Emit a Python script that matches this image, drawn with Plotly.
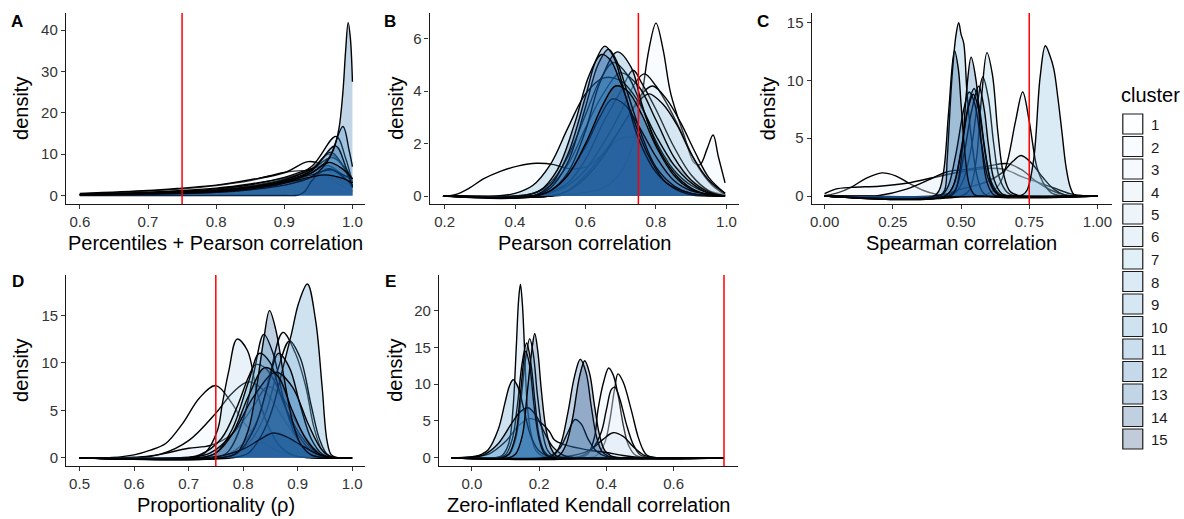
import plotly.graph_objects as go

# ---------------- data ----------------
THRESHOLD = 0.75
CLUSTERS = list(range(1, 16))

PANEL_LETTERS = ["A", "B", "C", "D", "E"]
X_TITLES = ["Percentiles + Pearson correlation", "Pearson correlation",
            "Spearman correlation", "Proportionality (ρ)",
            "Zero-inflated Kendall correlation"]

A_xticks = [0.6, 0.7, 0.8, 0.9, 1.0]
A_xtext = ["0.6", "0.7", "0.8", "0.9", "1.0"]
A_yticks = [0, 10, 20, 30, 40]
B_xticks = [0.2, 0.4, 0.6, 0.8, 1.0]
B_xtext = ["0.2", "0.4", "0.6", "0.8", "1.0"]
B_yticks = [0, 2, 4, 6]
C_xticks = [0.0, 0.25, 0.5, 0.75, 1.0]
C_xtext = ["0.00", "0.25", "0.50", "0.75", "1.00"]
C_yticks = [0, 5, 10, 15]
D_xticks = [0.5, 0.6, 0.7, 0.8, 0.9, 1.0]
D_xtext = ["0.5", "0.6", "0.7", "0.8", "0.9", "1.0"]
D_yticks = [0, 5, 10, 15]
E_xticks = [0.0, 0.2, 0.4, 0.6]
E_xtext = ["0.0", "0.2", "0.4", "0.6"]
E_yticks = [0, 5, 10, 15, 20]

# density curves, one list of (x, density) key points per cluster 1..15
A_pts = [
    [(0.6, 0.4), (0.65, 0.7), (0.7, 1.1), (0.75, 1.6), (0.8, 2.4), (0.85, 3.6), (0.9, 5.6), (0.93, 6.0), (0.96, 5.0), (0.98, 2.8), (1.0, 1.0)],
    [(0.6, 0.5), (0.7, 1.2), (0.75, 1.8), (0.8, 2.5), (0.85, 3.8), (0.9, 5.5), (0.935, 8.2), (0.955, 7.5), (0.975, 4.5), (1.0, 2.0)],
    [(0.6, 0.3), (0.7, 0.8), (0.8, 1.8), (0.85, 2.8), (0.9, 4.2), (0.93, 5.5), (0.96, 6.5), (0.98, 5.0), (1.0, 2.5)],
    [(0.6, 0.2), (0.7, 0.6), (0.8, 1.4), (0.85, 2.3), (0.9, 4.0), (0.94, 6.5), (0.965, 10.0), (0.98, 8.5), (1.0, 3.0)],
    [(0.6, 0.2), (0.7, 0.5), (0.8, 1.2), (0.85, 2.0), (0.9, 3.6), (0.94, 7.0), (0.976, 14.3), (0.99, 9.0), (1.0, 3.0)],
    [(0.6, 0.3), (0.7, 0.7), (0.8, 1.6), (0.85, 2.6), (0.9, 4.4), (0.94, 6.5), (0.965, 7.2), (0.985, 5.0), (1.0, 2.0)],
    [(0.6, 0.2), (0.7, 0.5), (0.8, 1.2), (0.85, 2.1), (0.9, 3.8), (0.94, 6.3), (0.97, 9.2), (0.99, 6.5), (1.0, 4.0)],
    [(0.6, 0.2), (0.7, 0.5), (0.8, 1.1), (0.85, 2.0), (0.9, 3.5), (0.94, 6.0), (0.968, 10.5), (0.985, 7.5), (1.0, 2.0)],
    [(0.6, 0.15), (0.7, 0.4), (0.8, 1.0), (0.85, 1.8), (0.9, 3.2), (0.94, 5.5), (0.965, 9.0), (0.986, 16.7), (0.995, 11.0), (1.0, 7.0)],
    [(0.6, 0.0), (0.9, 0.0), (0.92, 0.1), (0.93, 1.0), (0.94, 3.5), (0.95, 5.2), (0.965, 6.5), (0.98, 5.5), (1.0, 4.0)],
    [(0.6, 0.2), (0.7, 0.5), (0.8, 1.2), (0.85, 2.0), (0.9, 3.4), (0.94, 5.0), (0.97, 6.2), (0.99, 4.0), (1.0, 2.5)],
    [(0.6, 0.1), (0.7, 0.3), (0.8, 0.8), (0.85, 1.5), (0.9, 3.0), (0.94, 6.0), (0.975, 12.0), (0.99, 7.0), (1.0, 2.0)],
    [(0.6, 0.2), (0.7, 0.4), (0.8, 0.8), (0.85, 1.4), (0.9, 2.5), (0.94, 4.5), (0.96, 7.5), (0.972, 11.0), (0.98, 16.0), (0.986, 25.0), (0.99, 35.0), (0.9937, 41.8), (0.997, 38.0), (1.0, 27.5)],
    [(0.6, 0.2), (0.7, 0.5), (0.8, 1.1), (0.85, 1.9), (0.9, 3.3), (0.94, 5.5), (0.965, 8.0), (0.985, 6.5), (1.0, 4.0)],
    [(0.6, 0.15), (0.7, 0.4), (0.8, 0.9), (0.85, 1.6), (0.9, 3.0), (0.94, 4.5), (0.96, 5.0), (0.985, 4.2), (1.0, 3.0)],
]

B_pts = [
    [(0.1955, 0), (0.23, 0.05), (0.27, 0.3), (0.31, 0.65), (0.36, 0.95), (0.41, 1.15), (0.46, 1.25), (0.51, 1.2), (0.55, 1.05), (0.6, 1.1), (0.65, 1.6), (0.7, 2.2), (0.75, 2.2), (0.8, 1.8), (0.85, 1.2), (0.9, 0.6), (0.95, 0.2), (0.996, 0.05)],
    [(0.1955, 0), (0.5, 0), (0.55, 0.05), (0.6, 0.15), (0.65, 0.3), (0.7, 0.9), (0.74, 2.2), (0.76, 3.8), (0.78, 5.6), (0.8, 6.6), (0.82, 5.6), (0.842, 3.9), (0.88, 2.3), (0.908, 1.27), (0.925, 1.2), (0.945, 1.8), (0.962, 2.33), (0.977, 1.5), (0.996, 0.5)],
    [(0.1955, 0), (0.45, 0), (0.5, 0.1), (0.55, 0.4), (0.6, 1.0), (0.65, 2.0), (0.7, 3.2), (0.74, 4.3), (0.767, 4.66), (0.8, 4.2), (0.84, 3.3), (0.88, 2.2), (0.92, 1.1), (0.96, 0.4), (0.996, 0.05)],
    [(0.1955, 0), (0.5, 0), (0.55, 0.2), (0.6, 0.8), (0.66, 1.8), (0.72, 3.0), (0.76, 3.9), (0.79, 4.2), (0.83, 3.7), (0.87, 2.8), (0.91, 1.7), (0.95, 0.7), (0.996, 0.1)],
    [(0.1955, 0), (0.45, 0), (0.5, 0.15), (0.55, 0.5), (0.6, 1.4), (0.65, 2.8), (0.7, 4.0), (0.735, 4.8), (0.76, 4.3), (0.8, 3.3), (0.85, 1.9), (0.9, 0.8), (0.95, 0.2), (0.996, 0)],
    [(0.1955, 0), (0.5, 0), (0.55, 0.2), (0.6, 0.7), (0.65, 1.5), (0.7, 2.6), (0.75, 3.6), (0.78, 3.9), (0.82, 3.5), (0.86, 2.7), (0.9, 1.6), (0.95, 0.6), (0.996, 0.1)],
    [(0.1955, 0), (0.4, 0), (0.45, 0.1), (0.5, 0.4), (0.55, 1.2), (0.6, 2.6), (0.65, 3.9), (0.7, 4.7), (0.75, 4.2), (0.8, 2.9), (0.85, 1.5), (0.9, 0.6), (0.95, 0.15), (0.996, 0)],
    [(0.1955, 0), (0.4, 0), (0.45, 0.1), (0.5, 0.5), (0.55, 1.5), (0.6, 3.1), (0.64, 4.4), (0.68, 5.1), (0.72, 4.6), (0.76, 3.4), (0.8, 2.1), (0.85, 1.0), (0.9, 0.4), (0.95, 0.1), (0.996, 0)],
    [(0.1955, 0), (0.35, 0), (0.4, 0.1), (0.45, 0.4), (0.5, 1.2), (0.55, 2.6), (0.6, 3.9), (0.65, 4.5), (0.7, 4.4), (0.75, 3.6), (0.8, 2.3), (0.85, 1.2), (0.9, 0.5), (0.95, 0.1), (0.996, 0)],
    [(0.1955, 0), (0.45, 0), (0.5, 0.2), (0.55, 0.9), (0.6, 2.5), (0.64, 4.3), (0.69, 5.5), (0.73, 4.9), (0.76, 3.5), (0.8, 2.0), (0.85, 0.9), (0.9, 0.3), (0.95, 0.05), (0.996, 0)],
    [(0.1955, 0), (0.45, 0), (0.5, 0.2), (0.55, 0.8), (0.6, 1.9), (0.64, 3.0), (0.675, 3.7), (0.71, 3.5), (0.75, 2.7), (0.8, 1.5), (0.85, 0.6), (0.9, 0.2), (0.996, 0)],
    [(0.1955, 0), (0.45, 0), (0.5, 0.3), (0.55, 1.3), (0.6, 3.4), (0.635, 5.0), (0.665, 5.6), (0.69, 5.1), (0.72, 3.9), (0.76, 2.3), (0.8, 1.1), (0.85, 0.4), (0.9, 0.1), (0.996, 0)],
    [(0.1955, 0), (0.45, 0), (0.5, 0.4), (0.55, 1.6), (0.6, 3.8), (0.63, 5.2), (0.655, 5.72), (0.68, 5.3), (0.71, 4.0), (0.75, 2.2), (0.8, 0.9), (0.85, 0.3), (0.9, 0.05), (0.996, 0)],
    [(0.1955, 0), (0.42, 0), (0.47, 0.2), (0.52, 1.0), (0.57, 2.8), (0.61, 4.6), (0.645, 5.4), (0.67, 5.2), (0.7, 4.3), (0.74, 2.8), (0.78, 1.5), (0.83, 0.5), (0.9, 0.1), (0.996, 0)],
    [(0.1955, 0), (0.45, 0), (0.5, 0.2), (0.55, 0.8), (0.6, 2.0), (0.65, 3.5), (0.685, 4.2), (0.72, 4.0), (0.76, 3.1), (0.8, 1.9), (0.85, 0.8), (0.9, 0.25), (0.95, 0.05), (0.996, 0)],
]

C_pts = [
    [(0.0, 0.05), (0.05, 0.3), (0.1, 0.8), (0.15, 1.5), (0.21, 2.0), (0.26, 1.75), (0.31, 1.1), (0.36, 0.5), (0.41, 0.15), (0.46, 0.02), (0.55, 0), (1.0, 0)],
    [(0.0, 0.2), (0.04, 0.6), (0.1, 0.75), (0.2, 0.85), (0.3, 1.1), (0.4, 1.6), (0.5, 2.1), (0.6, 2.4), (0.66, 2.3), (0.72, 1.7), (0.78, 1.2), (0.84, 0.7), (0.9, 0.2), (0.95, 0.02), (1.0, 0)],
    [(0.0, 0), (0.15, 0), (0.2, 0.05), (0.3, 0.6), (0.4, 1.6), (0.45, 2.1), (0.52, 2.3), (0.6, 2.6), (0.67, 2.8), (0.72, 2.3), (0.78, 1.2), (0.83, 0.5), (0.88, 0.1), (0.93, 0), (1.0, 0)],
    [(0.0, 0), (0.55, 0), (0.6, 0.2), (0.64, 1.0), (0.67, 3.0), (0.7, 6.5), (0.726, 9.0), (0.749, 6.6), (0.778, 2.5), (0.8, 1.2), (0.83, 0.3), (0.87, 0.02), (1.0, 0)],
    [(0.0, 0), (0.4, 0), (0.45, 0.2), (0.5, 0.6), (0.55, 0.9), (0.6, 1.3), (0.65, 2.0), (0.69, 3.0), (0.72, 3.5), (0.76, 2.8), (0.8, 1.6), (0.84, 0.6), (0.88, 0.1), (1.0, 0)],
    [(0.0, 0), (0.45, 0), (0.48, 0.3), (0.51, 1.5), (0.54, 4.5), (0.56, 8.0), (0.58, 10.3), (0.6, 8.5), (0.62, 4.5), (0.64, 1.6), (0.67, 0.3), (0.7, 0), (1.0, 0)],
    [(0.0, 0), (0.5, 0), (0.53, 0.5), (0.555, 3.0), (0.575, 8.5), (0.595, 12.4), (0.615, 10.5), (0.635, 5.5), (0.655, 2.0), (0.68, 0.4), (0.72, 0), (1.0, 0)],
    [(0.0, 0), (0.7, 0), (0.725, 0.1), (0.742, 0.5), (0.766, 3.1), (0.79, 10.3), (0.809, 13.0), (0.825, 12.2), (0.84, 11.0), (0.855, 8.5), (0.87, 5.5), (0.885, 2.5), (0.9, 0.8), (0.915, 0.1), (0.94, 0), (1.0, 0)],
    [(0.0, 0), (0.42, 0), (0.44, 0.5), (0.449, 3.1), (0.467, 10.3), (0.482, 14.0), (0.4915, 15.0), (0.5, 14.0), (0.51, 13.2), (0.522, 8.9), (0.54, 4.6), (0.559, 1.7), (0.58, 0.3), (0.6, 0), (1.0, 0)],
    [(0.0, 0), (0.44, 0), (0.47, 0.8), (0.5, 4.0), (0.53, 8.2), (0.548, 9.3), (0.565, 8.0), (0.585, 4.5), (0.61, 1.3), (0.64, 0.2), (0.68, 0), (1.0, 0)],
    [(0.0, 0), (0.45, 0), (0.48, 0.6), (0.51, 3.5), (0.54, 7.5), (0.565, 9.5), (0.585, 7.5), (0.6, 4.5), (0.62, 1.5), (0.65, 0.2), (0.7, 0), (1.0, 0)],
    [(0.0, 0), (0.42, 0), (0.45, 0.7), (0.48, 3.5), (0.51, 7.5), (0.53, 9.0), (0.55, 8.0), (0.575, 4.5), (0.6, 1.5), (0.63, 0.2), (0.67, 0), (1.0, 0)],
    [(0.0, 0), (0.46, 0), (0.48, 0.5), (0.5, 3.0), (0.52, 9.0), (0.537, 12.0), (0.555, 10.0), (0.575, 4.5), (0.595, 1.2), (0.62, 0.1), (0.65, 0), (1.0, 0)],
    [(0.0, 0), (0.4, 0), (0.42, 0.5), (0.437, 2.25), (0.455, 7.4), (0.476, 12.6), (0.49, 11.0), (0.5, 8.0), (0.515, 3.5), (0.53, 1.0), (0.55, 0.1), (0.58, 0), (1.0, 0)],
    [(0.0, 0), (0.44, 0), (0.47, 0.8), (0.5, 3.8), (0.525, 7.5), (0.545, 8.8), (0.565, 7.5), (0.59, 3.5), (0.615, 0.8), (0.64, 0.1), (0.68, 0), (1.0, 0)],
]

D_pts = [
    [(0.5, 0), (0.56, 0.02), (0.6, 0.3), (0.63, 0.8), (0.658, 1.5), (0.689, 3.6), (0.72, 6.3), (0.75, 7.6), (0.78, 5.7), (0.8, 3.8), (0.83, 1.9), (0.86, 0.8), (0.9, 0.15), (0.94, 0), (1.0, 0)],
    [(0.5, 0), (0.6, 0.05), (0.65, 0.4), (0.7, 1.8), (0.75, 4.7), (0.78, 6.8), (0.81, 8.0), (0.84, 7.0), (0.87, 4.5), (0.9, 2.0), (0.93, 0.5), (0.96, 0.05), (1.0, 0)],
    [(0.5, 0), (0.62, 0.05), (0.66, 0.5), (0.7, 1.0), (0.74, 1.3), (0.78, 2.5), (0.82, 5.5), (0.845, 7.5), (0.87, 6.5), (0.9, 3.5), (0.93, 1.0), (0.96, 0.1), (1.0, 0)],
    [(0.5, 0), (0.74, 0), (0.77, 0.3), (0.8, 1.5), (0.83, 4.5), (0.85, 9.0), (0.873, 13.2), (0.896, 11.0), (0.915, 7.5), (0.93, 3.2), (0.945, 0.8), (0.96, 0.05), (1.0, 0)],
    [(0.5, 0), (0.75, 0), (0.78, 0.3), (0.81, 1.5), (0.84, 4.5), (0.865, 9.5), (0.885, 12.3), (0.905, 10.5), (0.925, 5.5), (0.94, 2.0), (0.955, 0.3), (0.97, 0), (1.0, 0)],
    [(0.5, 0), (0.7, 0), (0.73, 0.5), (0.753, 2.9), (0.762, 5.7), (0.774, 9.2), (0.789, 12.5), (0.808, 11.3), (0.825, 7.0), (0.845, 3.5), (0.865, 1.4), (0.89, 0.3), (0.92, 0), (1.0, 0)],
    [(0.5, 0), (0.68, 0), (0.72, 0.3), (0.76, 2.0), (0.79, 5.5), (0.81, 8.5), (0.823, 9.8), (0.84, 9.5), (0.86, 7.8), (0.88, 5.0), (0.91, 2.0), (0.935, 0.5), (0.96, 0.05), (1.0, 0)],
    [(0.5, 0), (0.74, 0), (0.77, 0.5), (0.8, 4.0), (0.82, 9.0), (0.838, 13.0), (0.855, 11.0), (0.875, 6.0), (0.895, 2.5), (0.92, 0.5), (0.95, 0), (1.0, 0)],
    [(0.5, 0), (0.72, 0), (0.75, 0.5), (0.78, 3.0), (0.81, 8.0), (0.83, 11.0), (0.85, 10.0), (0.87, 6.5), (0.9, 2.5), (0.93, 0.5), (0.96, 0), (1.0, 0)],
    [(0.5, 0), (0.78, 0), (0.81, 0.5), (0.835, 2.5), (0.853, 5.0), (0.872, 9.2), (0.889, 13.1), (0.902, 16.3), (0.918, 18.3), (0.933, 14.5), (0.945, 7.5), (0.954, 1.8), (0.962, 0.3), (0.975, 0), (1.0, 0)],
    [(0.5, 0), (0.76, 0), (0.79, 0.5), (0.82, 3.0), (0.845, 7.5), (0.865, 11.0), (0.885, 9.5), (0.905, 5.5), (0.925, 2.0), (0.945, 0.4), (0.965, 0), (1.0, 0)],
    [(0.5, 0), (0.7, 0), (0.74, 0.5), (0.78, 2.5), (0.82, 6.5), (0.86, 9.0), (0.89, 7.5), (0.92, 3.5), (0.945, 0.8), (0.965, 0.05), (1.0, 0)],
    [(0.5, 0), (0.72, 0), (0.76, 0.2), (0.8, 0.9), (0.83, 1.9), (0.855, 2.6), (0.88, 2.2), (0.91, 1.2), (0.94, 0.3), (0.97, 0), (1.0, 0)],
    [(0.5, 0), (0.76, 0), (0.79, 0.6), (0.81, 3.0), (0.825, 7.5), (0.838, 12.5), (0.8485, 15.5), (0.86, 13.5), (0.875, 8.5), (0.89, 4.0), (0.905, 1.5), (0.925, 0.3), (0.95, 0), (1.0, 0)],
    [(0.5, 0), (0.72, 0), (0.75, 0.5), (0.78, 2.5), (0.81, 6.5), (0.84, 9.5), (0.865, 8.5), (0.89, 5.0), (0.915, 2.0), (0.94, 0.4), (0.96, 0), (1.0, 0)],
]

E_pts = [
    [(-0.06, 0), (0.35, 0), (0.37, 0.3), (0.395, 2.0), (0.41, 5.0), (0.425, 9.5), (0.4345, 11.4), (0.45, 10.3), (0.474, 6.5), (0.494, 2.9), (0.51, 1.0), (0.52, 0.37), (0.54, 0.05), (0.57, 0), (0.75, 0)],
    [(-0.06, 0), (0.32, 0), (0.345, 0.5), (0.365, 2.86), (0.375, 6.5), (0.393, 10.5), (0.407, 12.2), (0.42, 11.3), (0.435, 8.5), (0.45, 4.5), (0.465, 1.8), (0.485, 0.4), (0.51, 0), (0.75, 0)],
    [(-0.06, 0), (0.3, 0), (0.33, 0.3), (0.36, 1.3), (0.385, 3.5), (0.4, 6.5), (0.415, 9.3), (0.425, 9.6), (0.44, 8.0), (0.46, 4.5), (0.48, 1.8), (0.5, 0.4), (0.53, 0), (0.75, 0)],
    [(-0.06, 0), (0.25, 0), (0.3, 0.3), (0.35, 1.0), (0.39, 2.5), (0.42, 3.4), (0.45, 2.9), (0.48, 1.5), (0.51, 0.4), (0.55, 0), (0.75, 0)],
    [(-0.06, 0), (0.0, 0.1), (0.05, 0.5), (0.1, 2.2), (0.14, 4.4), (0.17, 5.3), (0.2, 4.9), (0.23, 3.6), (0.246, 2.4), (0.28, 1.7), (0.345, 1.05), (0.4, 0.7), (0.45, 0.3), (0.5, 0.05), (0.55, 0), (0.75, 0)],
    [(-0.06, 0), (0.07, 0), (0.09, 0.3), (0.11, 2.0), (0.122, 6.5), (0.132, 15.0), (0.139, 21.5), (0.1444, 23.6), (0.15, 21.0), (0.155, 16.5), (0.159, 11.9), (0.165, 7.0), (0.175, 3.5), (0.19, 1.0), (0.21, 0.2), (0.24, 0), (0.75, 0)],
    [(-0.06, 0), (0.2, 0), (0.23, 0.2), (0.26, 1.2), (0.285, 3.4), (0.307, 5.2), (0.325, 4.6), (0.345, 2.6), (0.37, 0.9), (0.4, 0.15), (0.43, 0), (0.75, 0)],
    [(-0.06, 0), (0.09, 0), (0.11, 0.4), (0.13, 2.5), (0.145, 7.5), (0.16, 13.5), (0.172, 16.2), (0.183, 14.0), (0.195, 8.5), (0.21, 3.5), (0.225, 1.0), (0.245, 0.1), (0.27, 0), (0.75, 0)],
    [(-0.06, 0), (0.08, 0), (0.1, 0.4), (0.12, 2.5), (0.135, 7.0), (0.15, 13.0), (0.163, 15.6), (0.175, 13.0), (0.188, 7.5), (0.2, 3.0), (0.215, 0.9), (0.235, 0.1), (0.26, 0), (0.75, 0)],
    [(-0.06, 0), (-0.02, 0.02), (0.01, 0.2), (0.03, 0.5), (0.048, 1.05), (0.078, 3.8), (0.098, 7.4), (0.112, 9.8), (0.123, 10.6), (0.138, 9.5), (0.155, 6.5), (0.175, 3.0), (0.2, 0.9), (0.225, 0.2), (0.25, 0), (0.75, 0)],
    [(-0.06, 0), (0.0, 0.05), (0.04, 0.5), (0.08, 2.0), (0.12, 4.8), (0.145, 6.3), (0.167, 6.8), (0.19, 5.8), (0.215, 3.5), (0.24, 1.5), (0.27, 0.4), (0.3, 0.05), (0.33, 0), (0.75, 0)],
    [(-0.06, 0), (0.09, 0), (0.11, 0.5), (0.13, 3.0), (0.145, 9.0), (0.16, 14.5), (0.172, 12.5), (0.185, 7.0), (0.2, 2.5), (0.215, 0.6), (0.235, 0.05), (0.26, 0), (0.75, 0)],
    [(-0.06, 0), (0.22, 0), (0.245, 0.4), (0.265, 2.0), (0.285, 6.0), (0.305, 11.0), (0.3226, 13.4), (0.34, 11.5), (0.355, 7.0), (0.37, 3.0), (0.385, 1.0), (0.405, 0.2), (0.43, 0), (0.75, 0)],
    [(-0.06, 0), (0.11, 0), (0.13, 0.5), (0.15, 3.0), (0.165, 9.0), (0.178, 14.5), (0.187, 16.9), (0.196, 14.5), (0.207, 9.0), (0.22, 4.0), (0.235, 1.3), (0.25, 0.3), (0.27, 0), (0.75, 0)],
    [(-0.06, 0), (0.24, 0), (0.26, 0.3), (0.28, 1.8), (0.3, 5.5), (0.32, 11.0), (0.3356, 13.2), (0.35, 11.5), (0.365, 7.0), (0.38, 3.0), (0.395, 1.0), (0.415, 0.2), (0.44, 0), (0.75, 0)],
]

# ---------------- styling ----------------
W, H = 1184, 519
FONT = "Liberation Sans, Arial, Helvetica, sans-serif"
BLUES9 = ["#F7FBFF", "#DEEBF7", "#C6DBEF", "#9ECAE1", "#6BAED6",
          "#4292C6", "#2171B5", "#08519C", "#08306B"]
ALPHA = 0.25


def hex_rgb(h):
    h = h.lstrip("#")
    return tuple(int(h[i:i + 2], 16) for i in (0, 2, 4))


def ramp(n):
    base = [hex_rgb(c) for c in BLUES9]
    out = []
    for i in range(n):
        t = i * (len(base) - 1) / (n - 1)
        j = min(int(t), len(base) - 2)
        f = t - j
        out.append(tuple(round(base[j][k] * (1 - f) + base[j + 1][k] * f) for k in range(3)))
    return out


COLS = ramp(len(CLUSTERS))
FILLS = ["rgba(%d,%d,%d,%.2f)" % (c[0], c[1], c[2], ALPHA) for c in COLS]


def PX(x):
    return x / W


def PY(y):
    return 1 - y / H


# panel geometry in pixels: (left, right, top, bottom), axis ranges
panels = [
    dict(pts=A_pts, box=(64, 364, 13, 204), xr=[0.5795, 1.019], yr=[-2.05, 44.13],
         xt=A_xticks, xtt=A_xtext, yt=A_yticks, letter=(15.5, 21), ytitle_x=18.5),
    dict(pts=B_pts, box=(428.3, 738.7, 13, 204), xr=[0.1575, 1.0368], yr=[-0.305, 6.985],
         xt=B_xticks, xtt=B_xtext, yt=B_yticks, letter=(389, 21), ytitle_x=394),
    dict(pts=C_pts, box=(811, 1111.7, 13, 204), xr=[-0.0476, 1.0527], yr=[-0.69, 15.83],
         xt=C_xticks, xtt=C_xtext, yt=C_yticks, letter=(762.5, 21), ytitle_x=767),
    dict(pts=D_pts, box=(64.3, 364, 275, 466), xr=[0.4755, 1.0244], yr=[-0.87, 19.25],
         xt=D_xticks, xtt=D_xtext, yt=D_yticks, letter=(16.3, 281), ytitle_x=18.5),
    dict(pts=E_pts, box=(437.7, 737.7, 275, 466), xr=[-0.098, 0.793], yr=[-1.13, 24.86],
         xt=E_xticks, xtt=E_xtext, yt=E_yticks, letter=(389, 281), ytitle_x=393),
]

fig = go.Figure()
annotations = []
shapes = []
layout = {}

for i, p in enumerate(panels):
    n = "" if i == 0 else str(i + 1)
    xa, ya = "x" + n, "y" + n
    l, r, t, b = p["box"]
    for k, curve in enumerate(p["pts"]):
        fig.add_trace(go.Scatter(
            x=[q[0] for q in curve], y=[q[1] for q in curve],
            mode="lines", line=dict(color="black", width=1.4, shape="spline", smoothing=1.0),
            fill="tozeroy", fillcolor=FILLS[k], xaxis=xa, yaxis=ya,
            showlegend=False, hoverinfo="skip", name=str(CLUSTERS[k])))
    common = dict(showline=True, linecolor="#1a1a1a", linewidth=1.2, ticks="outside",
                  ticklen=4, tickwidth=1.2, tickcolor="#333333", showgrid=False,
                  zeroline=False, fixedrange=True,
                  tickfont=dict(family=FONT, size=15, color="#333333"))
    layout["xaxis" + n] = dict(common, domain=[PX(l), PX(r)], range=p["xr"], anchor=ya,
                               tickmode="array", tickvals=p["xt"], ticktext=p["xtt"])
    layout["yaxis" + n] = dict(common, domain=[PY(b), PY(t)], range=p["yr"], anchor=xa,
                               tickmode="array", tickvals=p["yt"],
                               ticktext=[str(v) for v in p["yt"]])
    shapes.append(dict(type="line", xref=xa, yref=ya + " domain", x0=THRESHOLD, x1=THRESHOLD,
                       y0=0, y1=1, line=dict(color="#ff0000", width=1.5), layer="above"))
    # panel letter
    annotations.append(dict(text="<b>%s</b>" % PANEL_LETTERS[i], x=PX(p["letter"][0]),
                            y=PY(p["letter"][1]), xref="paper", yref="paper",
                            xanchor="center", yanchor="middle", showarrow=False,
                            font=dict(family=FONT, size=17, color="black")))
    # x title
    annotations.append(dict(text=X_TITLES[i], x=PX((l + r) / 2), y=PY(b + 39),
                            xref="paper", yref="paper", xanchor="center", yanchor="middle",
                            showarrow=False, font=dict(family=FONT, size=20, color="black")))
    # y title
    annotations.append(dict(text="density", x=PX(p["ytitle_x"]), y=PY((t + b) / 2),
                            xref="paper", yref="paper", xanchor="center", yanchor="middle",
                            textangle=-90, showarrow=False,
                            font=dict(family=FONT, size=20, color="black")))

# legend (drawn manually to match ggplot keys)
annotations.append(dict(text="cluster", x=PX(1119), y=PY(95), xref="paper", yref="paper",
                        xanchor="left", yanchor="middle", showarrow=False,
                        font=dict(family=FONT, size=20, color="black")))
for k, c in enumerate(CLUSTERS):
    top = 114 + k * 22.5
    shapes.append(dict(type="rect", xref="paper", yref="paper", x0=PX(1122.7), x1=PX(1142.7),
                       y0=PY(top + 20), y1=PY(top), fillcolor=FILLS[k],
                       line=dict(color="#1a1a1a", width=1.2)))
    annotations.append(dict(text=str(c), x=PX(1149), y=PY(top + 10.5), xref="paper",
                            yref="paper", xanchor="left", yanchor="middle", showarrow=False,
                            font=dict(family=FONT, size=15, color="#1a1a1a")))

fig.update_layout(width=W, height=H, autosize=False, margin=dict(l=0, r=0, t=0, b=0),
                  paper_bgcolor="white", plot_bgcolor="white", showlegend=False,
                  annotations=annotations, shapes=shapes, **layout)

fig.write_html("out.html", config={"displayModeBar": False},
               post_script="document.body.style.margin='0';document.body.style.overflow='hidden';")
